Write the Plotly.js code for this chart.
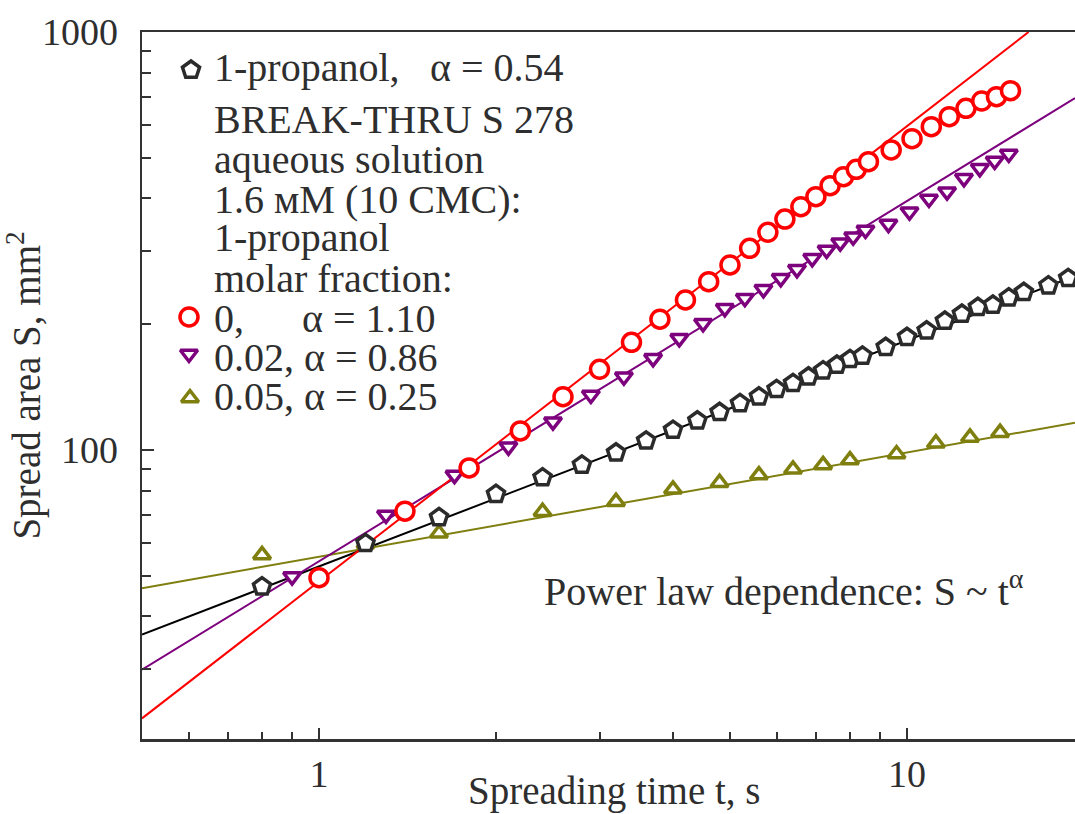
<!DOCTYPE html>
<html>
<head>
<meta charset="utf-8">
<script src="https://cdn.plot.ly/plotly-3.0.1.min.js"></script>
<style>
html,body{margin:0;padding:0;background:#fff;}
#chart{width:1075px;height:814px;}
</style>
</head>
<body>
<div id="chart"></div>
<script>
// ---------------- data ----------------
// 1-propanol, alpha = 0.54
const tPropanol = [0.8,1.2,1.6,2.0,2.4,2.8,3.2,3.6,4.0,4.4,4.8,5.2,5.6,6.0,6.4,6.8,7.2,7.6,8.0,8.4,9.2,10.0,10.8,11.6,12.4,13.2,14.0,14.9,15.8,17.4,18.8];
const sPropanol = [47.1,59.8,69.0,78.4,85.9,92.1,98.5,105.2,111.6,117.5,123.1,129.3,134.1,139.7,144.4,149.7,154.8,159.7,164.8,167.9,176.1,186.1,192.9,203.5,211.5,219.5,222.3,231.4,238.4,247.2,257.5];
// molar fraction 0, alpha = 1.10
const tFrac0 = [1.0,1.4,1.8,2.2,2.6,3.0,3.4,3.8,4.2,4.6,5.0,5.4,5.8,6.2,6.6,7.0,7.4,7.8,8.2,8.6,9.4,10.2,11.0,11.8,12.6,13.4,14.2,15.0];
const sFrac0 = [49.5,71.4,90.6,111.1,134.1,156.0,181.0,205.5,228.5,252.7,277.1,303.8,331.8,356.9,381.9,403.6,428.8,450.6,469.4,489.5,522.2,555.7,593.6,627.2,656.9,683.8,700.2,723.8];
// molar fraction 0.02, alpha = 0.86
const tFrac002 = [0.9,1.3,1.7,2.1,2.5,2.9,3.3,3.7,4.1,4.5,4.9,5.3,5.7,6.1,6.5,6.9,7.3,7.7,8.1,8.5,9.3,10.1,10.9,11.7,12.5,13.3,14.1,14.9];
const sFrac002 = [49.8,69.9,87.1,101.8,116.9,135.4,149.7,165.7,185.0,201.0,218.3,230.7,242.4,257.5,270.6,287.5,301.0,313.3,323.8,336.0,347.2,371.6,398.6,415.0,446.7,472.0,491.4,510.8];
// molar fraction 0.05, alpha = 0.25
const tFrac005 = [0.8,1.2,1.6,2.4,3.2,4.0,4.8,5.6,6.4,7.2,8.0,9.6,11.2,12.8,14.4];
const sFrac005 = [56.1,59.6,63.2,71.2,75.2,80.5,83.5,87.1,89.9,92.1,94.6,97.8,103.8,107.2,110.0];
// power-law fit lines: end points
const fitTPropanol = [0.5, 19.31], fitSPropanol = [36.2, 261];
const fitTFrac0 = [0.5, 16.1],     fitSFrac0 = [22.8, 1000];
const fitTFrac002 = [0.5, 19.31],  fitSFrac002 = [29.8, 695];
const fitTFrac005 = [0.5, 19.31],  fitSFrac005 = [46.7, 116.2];
// tick labels
const xTickVals = [1, 10], xTickText = ['1', '10'];
const yTickVals = [100, 1000], yTickText = ['100', '1000'];
// texts
const legendLabels = ['1-propanol,', 'α = 0.54', 'BREAK-THRU S 278', 'aqueous solution', '1.6 мМ (10 CMC):', '1-propanol', 'molar fraction:', '0,', 'α = 1.10', '0.02, α = 0.86', '0.05, α = 0.25'];
const noteText = 'Power law dependence: S ~ t<sup>α</sup>';
const xTitle = 'Spreading time t, s';
const yTitle = 'Spread area S, mm<sup>2</sup>';

// ---------------- layout helpers ----------------
const W = 1075, H = 814;
const M = {l: 142, r: 0, t: 32, b: 75};
const PW = W - M.l - M.r, PH = H - M.t - M.b;
const px = x => (x - M.l) / PW;       // pixel -> paper x
const py = y => (H - M.b - y) / PH;   // pixel -> paper y

const FONT = 'Liberation Serif, Times New Roman, Times, serif';
const TXT = '#2e2e2e';
const AX = '#333333';
const C_BLACK = '#2b2b2b', C_RED = '#ff0000', C_PURPLE = '#7d007d', C_OLIVE = '#7f7f10';
const MW = 3.5;

function fitLine(x, y, color) {
  return {x: x, y: y, type: 'scatter', mode: 'lines', line: {color: color, width: 2}, hoverinfo: 'skip', showlegend: false};
}
function pts(x, y, symbol, color, size) {
  return {x: x, y: y, type: 'scatter', mode: 'markers', showlegend: false,
    marker: {symbol: symbol, size: size, color: '#ffffff', line: {color: color, width: MW}}};
}
function key(xp, yp, symbol, color, size) {
  return {x: [px(xp)], y: [py(yp)], xaxis: 'x2', yaxis: 'y2', type: 'scatter', mode: 'markers', showlegend: false, hoverinfo: 'skip',
    marker: {symbol: symbol, size: size, color: '#ffffff', line: {color: color, width: MW}}};
}

const traces = [
  fitLine(fitTFrac005, fitSFrac005, C_OLIVE),
  fitLine(fitTPropanol, fitSPropanol, '#000000'),
  fitLine(fitTFrac002, fitSFrac002, C_PURPLE),
  fitLine(fitTFrac0, fitSFrac0, C_RED),
  pts(tFrac005, sFrac005, 'triangle-up', C_OLIVE, 15),
  pts(tPropanol, sPropanol, 'pentagon', C_BLACK, 18),
  pts(tFrac002, sFrac002, 'triangle-down', C_PURPLE, 15),
  pts(tFrac0, sFrac0, 'circle', C_RED, 18),
  key(191, 70, 'pentagon', C_BLACK, 18),
  key(189, 317, 'circle', C_RED, 18),
  key(189, 354, 'triangle-down', C_PURPLE, 15),
  key(190, 398, 'triangle-up', C_OLIVE, 15)
];

function ann(text, xp, yp, size, anchor) {
  return {text: text, x: px(xp), y: py(yp), xref: 'paper', yref: 'paper', xanchor: anchor || 'left', yanchor: 'middle',
    showarrow: false, font: {family: FONT, size: size || 40, color: TXT}};
}
const legendRows = [[212, 68], [428, 68], [212, 119], [212, 159], [212, 199], [212, 238], [212, 278], [212, 318], [300, 318], [212, 357], [212, 397]];
const annotations = legendLabels.map((s, i) => ann(s, legendRows[i][0], legendRows[i][1]));
annotations.push(ann(noteText, 542, 588, 40));
// x-axis title, placed low under the axis as in the reference
annotations.push(ann(xTitle, 614, 791, 39, 'center'));

const layout = {
  width: W, height: H,
  margin: M,
  paper_bgcolor: '#ffffff', plot_bgcolor: '#ffffff',
  font: {family: FONT, size: 38, color: TXT},
  showlegend: false,
  xaxis: {
    type: 'log', range: [Math.log10(0.5), Math.log10(19.31)],
    tickmode: 'array', tickvals: xTickVals, ticktext: xTickText,
    ticks: 'inside', ticklen: 11, tickwidth: 2.5, tickcolor: AX,
    minor: {ticks: 'inside', dtick: 'D1', ticklen: 7, tickwidth: 2, tickcolor: AX, showgrid: false},
    showline: true, linecolor: AX, linewidth: 2.5, mirror: true,
    showgrid: false, zeroline: false,
    tickfont: {family: FONT, size: 38, color: TXT}
  },
  yaxis: {
    type: 'log', range: [1.3086, 3],
    tickmode: 'array', tickvals: yTickVals, ticktext: yTickText,
    ticks: 'inside', ticklen: 12, tickwidth: 2.5, tickcolor: AX,
    ticklabelstandoff: 14,
    minor: {ticks: 'inside', dtick: 'D1', ticklen: 9, tickwidth: 2, tickcolor: AX, showgrid: false},
    showline: true, linecolor: AX, linewidth: 2.5, mirror: false,
    showgrid: false, zeroline: false,
    tickfont: {family: FONT, size: 38, color: TXT},
    title: {text: yTitle, font: {family: FONT, size: 39, color: TXT}, standoff: 0}
  },
  xaxis2: {overlaying: 'x', range: [0, 1], visible: false, fixedrange: true},
  yaxis2: {overlaying: 'y', range: [0, 1], visible: false, fixedrange: true},
  annotations: annotations
};

Plotly.newPlot('chart', traces, layout, {staticPlot: true, displayModeBar: false});
</script>
</body>
</html>
